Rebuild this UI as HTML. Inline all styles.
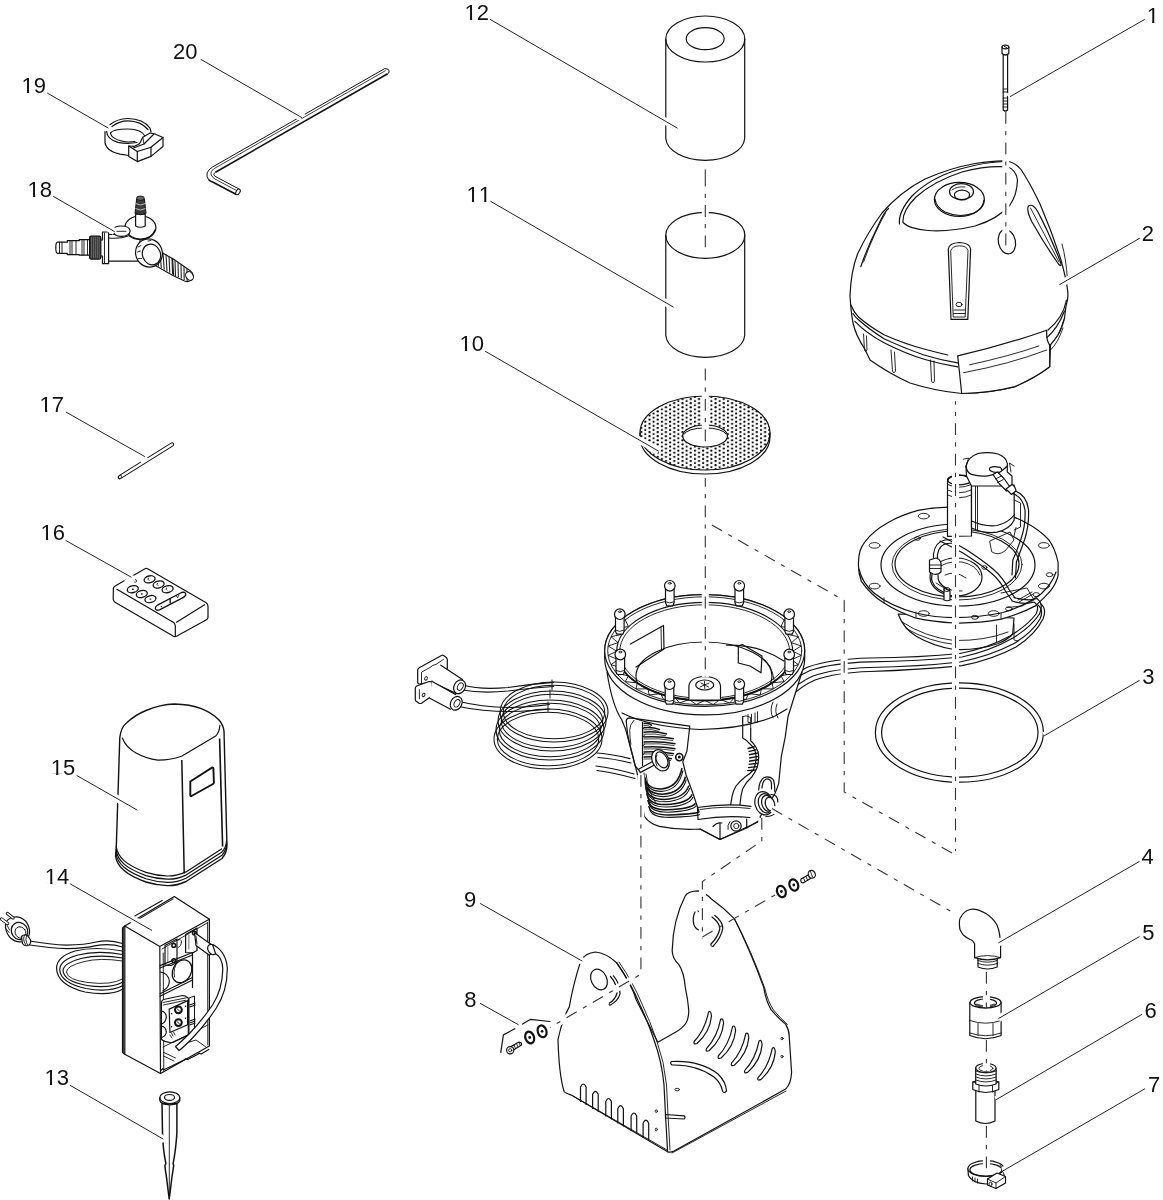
<!DOCTYPE html>
<html><head><meta charset="utf-8"><style>
html,body{margin:0;padding:0;background:#fff;width:1163px;height:1200px;overflow:hidden}
svg{display:block}
text{font-family:"Liberation Sans",sans-serif;font-size:22px;fill:#111;font-kerning:none;font-feature-settings:"kern" 0}
.l{fill:none;stroke:#222;stroke-width:1}
.s{fill:none;stroke:#111;stroke-width:1.2;stroke-linejoin:round;stroke-linecap:round}
.t{fill:none;stroke:#111;stroke-width:0.9;stroke-linejoin:round;stroke-linecap:round}
.k{fill:none;stroke:#111;stroke-width:1.6;stroke-linejoin:round;stroke-linecap:round}
.w{fill:#fff;stroke:#111;stroke-width:1.2;stroke-linejoin:round}
.dd{fill:none;stroke:#333;stroke-width:1.1;stroke-dasharray:11.8 7.2 4.2 7.2}
.da{fill:none;stroke:#333;stroke-width:1.1;stroke-dasharray:11.8 7.2 4.2 7.2}
</style></head><body>
<svg width="1163" height="1200" viewBox="0 0 1163 1200" style="filter:grayscale(1)">
<defs>
<pattern id="dots" x="656.24" y="410.38" width="8.26" height="4.13" patternUnits="userSpaceOnUse">
<circle cx="1.5" cy="1.0" r="1.1" fill="#000"/><circle cx="5.63" cy="3.065" r="1.1" fill="#000"/>
</pattern>
</defs>

<!-- LABELS -->
<g id="labels">
<text x="1146.7" y="23.0">1</text>
<text x="1141.8" y="241.0">2</text>
<text x="1142.3" y="683.8">3</text>
<text x="1141.6" y="863.8">4</text>
<text x="1142.3" y="939.8">5</text>
<text x="1144.5" y="1017.5">6</text>
<text x="1147.9" y="1091.5">7</text>
<text x="464.3" y="1006.7">8</text>
<text x="464.1" y="906.7">9</text>
<text x="459.5" y="351.0">10</text>
<text x="466.5" y="201.8">11</text>
<text x="464.5" y="19.8">12</text>
<text x="44.5" y="1084.8">13</text>
<text x="44.8" y="883.5">14</text>
<text x="50.7" y="775.2">15</text>
<text x="40.5" y="540.0">16</text>
<text x="39.6" y="411.8">17</text>
<text x="27.6" y="196.7">18</text>
<text x="21.5" y="92.9">19</text>
<text x="173.0" y="58.9">20</text>
<path fill="#fff" d="M1148.00,21.10 h4.15 v2.4 h-4.15 Z M1154.32,21.10 h4.0 v2.4 h-4.0 Z M460.80,349.10 h4.15 v2.4 h-4.15 Z M467.12,349.10 h4.0 v2.4 h-4.0 Z M467.80,199.90 h4.15 v2.4 h-4.15 Z M474.12,199.90 h4.0 v2.4 h-4.0 Z M480.04,199.90 h4.15 v2.4 h-4.15 Z M486.36,199.90 h4.0 v2.4 h-4.0 Z M465.80,17.90 h4.15 v2.4 h-4.15 Z M472.12,17.90 h4.0 v2.4 h-4.0 Z M45.80,1082.90 h4.15 v2.4 h-4.15 Z M52.12,1082.90 h4.0 v2.4 h-4.0 Z M46.10,881.60 h4.15 v2.4 h-4.15 Z M52.42,881.60 h4.0 v2.4 h-4.0 Z M52.00,773.30 h4.15 v2.4 h-4.15 Z M58.32,773.30 h4.0 v2.4 h-4.0 Z M41.80,538.10 h4.15 v2.4 h-4.15 Z M48.12,538.10 h4.0 v2.4 h-4.0 Z M40.90,409.90 h4.15 v2.4 h-4.15 Z M47.22,409.90 h4.0 v2.4 h-4.0 Z M28.90,194.80 h4.15 v2.4 h-4.15 Z M35.22,194.80 h4.0 v2.4 h-4.0 Z M22.80,91.00 h4.15 v2.4 h-4.15 Z M29.12,91.00 h4.0 v2.4 h-4.0 Z"/>
</g>


<!-- PART 12 -->
<g id="p12">
<path class="s" d="M665.8,39 L665.8,138.5 A39.5,23 0 0 0 744.7,138.5 L744.7,39"/>
<ellipse class="s" cx="705.3" cy="39" rx="39.5" ry="23"/>
<ellipse class="s" cx="705.2" cy="38.7" rx="19" ry="11"/>
</g>
<!-- PART 11 -->
<g id="p11">
<path class="s" d="M665.8,235.3 L665.8,335.5 A39.5,23 0 0 0 744.7,335.5 L744.7,235.3"/>
<ellipse class="s" cx="705.3" cy="235.3" rx="39.5" ry="23"/>
</g>
<!-- PART 10 -->
<g id="p10">
<path class="s" d="M640,433 L640,437 A65,37 0 0 0 770,437 L770,433"/>
<path d="M640,433 A65,37 0 1 1 770,433 A65,37 0 1 1 640,433 Z M682.7,436 A22.4,11 0 1 0 727.5,436 A22.4,11 0 1 0 682.7,436 Z" fill="url(#dots)" fill-rule="evenodd" stroke="#111" stroke-width="1.2"/>
<path d="M684,434.5 A21.2,7.3 0 0 1 726.2,434.5" fill="none" stroke="#111" stroke-width="1"/>
</g>


<!-- PART 3 O-ring -->
<g id="p3">
<ellipse class="s" cx="959.4" cy="732.5" rx="84" ry="49.7"/>
<ellipse class="s" cx="959.8" cy="732.6" rx="78.2" ry="44.5"/>
</g>

<!-- PART 20 hex key -->
<g id="p20" fill="none" stroke="#111">
<path d="M384.7,68.6 L212.5,167 Q203.8,172.5 208.5,179.5" stroke-width="1"/>
<path d="M208.5,179.5 Q210,181.2 213.1,182.2 L236.4,194.5" stroke-width="1.6"/>
<path d="M387.7,73.8 L215.5,172.2" stroke-width="1.6"/>
<path d="M215.5,172.2 Q212,174.8 215.9,176.8 L239.2,189.1" stroke-width="1"/>
<path d="M385.8,70.5 L213.6,168.9 Q207.5,174 214.9,179 L238,191.3" stroke-width="0.8"/>
<path d="M384.7,68.6 Q388.5,68.2 389.2,71 Q389,73.5 387.7,73.8" stroke-width="1"/>
<ellipse cx="238" cy="191.9" rx="1.9" ry="3.1" transform="rotate(30 238 191.9)" fill="#fff" stroke-width="1"/>
<path d="M296.5,118.4 L304.5,113.9" stroke="#fff" stroke-width="3.6"/>
</g>


<!-- PART 19 clamp -->
<g id="p19" class="s">
<path d="M109.5,125 Q118,118.3 128,118.5 Q143,118.8 150,128 L151,132"/>
<path d="M112,126.5 Q119,120.8 128,120.8 Q141,121 148,129.5"/>
<path d="M105,131.5 L105,142.5 Q106,151 120,154.2 L128.7,155.5"/>
<path d="M106.5,131 Q107,139.5 118,142.3 Q127,144.2 137,142.5"/>
<path d="M110.5,133 Q113,129 128,129 Q142,129.2 145,136.5"/>
<path d="M110.5,133 Q111.5,140 128,142 L135,141.5"/>
<path class="w" d="M128.7,146 L128.7,156.4 L137.3,161.6 L151,156.4 L163,146.5 L163,137.5 L155.5,134.2 L150,133 L142.8,137.2 L139.5,143.8 L134.6,146.3 Z"/>
<path d="M128.7,146 L137.3,151.5 L137.3,161.6"/>
<path d="M137.3,151.5 L151,147.2 L163,137.5"/>
<path d="M151,147.2 L151,156.4"/>
<path d="M133.5,148 L144,144 L153.5,134.5"/>
<path d="M142.8,137.2 L144,144" class="t"/>
</g>

<!-- PART 18 valve -->
<g id="p18">
<path class="s" d="M57.5,242.2 L67.3,242.2 L67.3,240.6 L79.3,240.6 L79.3,239.6 L89.6,239.6 L89.6,255.2 L79.3,255.2 L79.3,254.6 L67.3,254.6 L67.3,253.4 L57.5,253.4 Q55.8,253.4 55.8,247.8 Q55.8,242.2 57.5,242.2 Z"/>
<path class="t" d="M59.5,242.3 L59.5,253.3 M62,242.3 L62,253.3 M70,240.7 L70,254.5 M72,240.7 L72,254.5 M76,240.7 L76,254.5 M82,239.7 L82,255.1 M84,239.7 L84,255.1 M87.5,239.7 L87.5,255.1"/>
<rect x="89.6" y="236.2" width="11.2" height="22.9" rx="1.5" fill="#3a3a3a" stroke="#111" stroke-width="1.2"/>
<path d="M91.5,237 L91.5,258.3 M93.5,237 L93.5,258.3 M95.5,237 L95.5,258.3 M97.5,237 L97.5,258.3 M99.3,237 L99.3,258.3" stroke="#888" stroke-width="0.5"/>
<path class="w" d="M100.8,240 L102.5,240 L102.5,232 L108.6,232 L108.6,263.7 L102.5,263.7 L102.5,256 L100.8,256 Z"/>
<path class="t" d="M104.5,233 L104.5,262.8"/>
<path class="w" d="M108.6,234.5 L132,234.5 L140,238 L140,261.2 L108.6,261.2 Z"/>
<path class="s" d="M108.6,238 Q120,239 128,236"/>
<ellipse class="w" cx="140.4" cy="227.6" rx="15.5" ry="11.8"/>
<path class="s" d="M126,230 Q129,238.5 140.5,239.4 Q152,238.5 155,230"/>
<path class="w" d="M135.6,226 L135.6,214.5 Q140.5,212.5 145.2,214.5 L145.2,226 Q140.5,228.5 135.6,226 Z"/>
<path d="M135,213.5 L136.6,199 Q140.4,196 144.4,199 L146,213.5 Q140.5,216 135,213.5 Z" fill="#3a3a3a" stroke="#111" stroke-width="1"/>
<path d="M135.6,203.5 Q140.4,206.5 145.4,203.5 M135.4,208.5 Q140.5,211.5 145.6,208.5" stroke="#ccc" stroke-width="0.9" fill="none"/>
<ellipse cx="140.4" cy="198.2" rx="3.9" ry="2.2" fill="#666" stroke="#111" stroke-width="0.9"/>
<path class="w" d="M113,230.5 Q113.5,226 121.5,226 Q129.5,226 130.2,231 Q129.5,236.2 121.5,236.4 Q113.5,236.2 113,230.5 Z"/>
<path class="t" d="M117,231.3 L126,231.3"/>
<path d="M153,247.5 L174,259.5 L190,270.5 Q194.5,274 192.5,279 Q189.5,283 184.5,281 L172,275 L156,266 Z" fill="#fff" stroke="#111" stroke-width="1.1"/>
<path d="M157,249 L158.5,266.5 M160,251 L161.3,268 M163,252.5 L164.2,269.6 M166,254.3 L167,271.2 M169,256 L169.8,272.8 M172,257.8 L172.6,274.3 M175,260.5 L175.5,276 M178,262.6 L178.4,277.3 M181,264.6 L181.3,278.6 M184,266.6 L184.2,280 M187,268.6 L187.2,281" stroke="#222" stroke-width="1.1"/>
<path d="M172.5,258.5 L173.5,275" stroke="#111" stroke-width="1.2"/>
<ellipse cx="189.5" cy="276" rx="3.6" ry="4.6" transform="rotate(-30 189.5 276)" fill="#fff" stroke="#111" stroke-width="1.1"/>
<ellipse class="w" cx="149" cy="253" rx="13.3" ry="14.2" transform="rotate(-20 149 253)"/>
<ellipse class="s" cx="151.5" cy="254.5" rx="9" ry="10.5" transform="rotate(-20 151.5 254.5)"/>
<path class="t" d="M138,247 L141,245.5 M137.5,252 L140.5,251 M138.5,258.5 L141.5,258.5 M148,241 L151,240.5"/>
</g>


<!-- PART 16 remote -->
<g id="p16">
<path class="w" d="M113.4,588 Q114,586.5 116,585.5 L145,568.8 Q146.3,568 147.6,568.8 L205.8,602.4 Q207.8,603.7 208,606 L208,617.5 Q207.8,619 206,620 L176.5,636.3 Q175,637 173.5,636.2 L115,602.3 Q113.3,601 113.2,599 Z"/>
<path class="s" d="M116.9,589.2 L172.8,621.9 Q175,623 175.3,625.5 L175.3,636"/>
<path class="s" d="M176.5,622.2 L204.6,604.7"/>
<path d="M125,581.6 L134,576.2" stroke="#fff" stroke-width="3"/>
<ellipse cx="149.6" cy="579.3" rx="5.6" ry="3.4" transform="rotate(-14 149.6 579.3)" fill="none" stroke="#111" stroke-width="1.3"/>
<path d="M148.6,577.8 Q147.1,579.3 149.1,580.5" fill="none" stroke="#111" stroke-width="0.9"/>
<ellipse cx="158.6" cy="584.5" rx="5.6" ry="3.4" transform="rotate(-14 158.6 584.5)" fill="none" stroke="#111" stroke-width="1.3"/>
<path d="M157.6,583.0 Q156.1,584.5 158.1,585.7" fill="none" stroke="#111" stroke-width="0.9"/>
<ellipse cx="167.6" cy="589.2" rx="5.6" ry="3.4" transform="rotate(-14 167.6 589.2)" fill="none" stroke="#111" stroke-width="1.3"/>
<path d="M166.6,587.7 Q165.1,589.2 167.1,590.4000000000001" fill="none" stroke="#111" stroke-width="0.9"/>
<ellipse cx="132.8" cy="589.2" rx="5.6" ry="3.4" transform="rotate(-14 132.8 589.2)" fill="none" stroke="#111" stroke-width="1.3"/>
<ellipse cx="132.8" cy="589.2" rx="1.1" ry="0.7" fill="#111"/>
<ellipse cx="141.8" cy="594" rx="5.6" ry="3.4" transform="rotate(-14 141.8 594)" fill="none" stroke="#111" stroke-width="1.3"/>
<ellipse cx="141.8" cy="594" rx="1.1" ry="0.7" fill="#111"/>
<ellipse cx="150.4" cy="599.1" rx="5.6" ry="3.4" transform="rotate(-14 150.4 599.1)" fill="none" stroke="#111" stroke-width="1.3"/>
<ellipse cx="150.4" cy="599.1" rx="1.1" ry="0.7" fill="#111"/>
<path d="M158,604.8 L181.5,592.5 Q185.5,591.5 185.8,594.3 Q185.5,596.5 182,598.2 L159.5,609.8 Q156,611 155.3,608.4 Q155.3,606.3 158,604.8 Z" fill="none" stroke="#111" stroke-width="1.3"/>
<path d="M170.2,598.6 L170.2,603.8" stroke="#111" stroke-width="1.3"/>
<circle cx="161.3" cy="606.6" r="0.7" fill="#111"/>
<path d="M176,595.2 L177.5,597.8 L179,594.8" fill="none" stroke="#111" stroke-width="0.8"/>
<path d="M135,579.5 Q137.2,580 136.6,581.6 Q135.6,582.6 134.3,582" fill="none" stroke="#111" stroke-width="0.9"/>
</g>

<!-- PART 15 cover -->
<g id="p15">
<path style="stroke-width:1.4" class="w" d="M119.8,737.5 Q121,727 127,722.5 Q135,715 146,710.5 Q160,704.5 174.4,704 Q190,704.3 201.3,708.6 Q213,713.5 219,720 Q223.6,725.5 224,731.3 L226.9,844 Q227.5,852 222,858.5 L186,881.5 Q177,885.8 167.4,885.6 Q156,885.2 146,882 Q131,876.5 124.1,870.5 Q116.5,864 115.6,856 L116.3,846.8 Z"/>
<path class="s" d="M122.3,738 Q126,747.5 136,753 Q146,758.5 157.8,760.2 Q172,760 182,756 L215.7,736.1 Q219.5,732 219.9,725.3"/>
<path d="M181.8,760 L184.2,873.5" fill="none" stroke="#111" stroke-width="1.5"/>
<path d="M219.6,738.5 L222.6,846.5" fill="none" stroke="#111" stroke-width="1.6"/>
<path d="M190.3,781.5 L212.3,767.5 Q213.3,767.3 213.4,768.5 L213.9,782.5 Q213.9,783.5 213,784 L191.5,796 Q190.3,796.5 190.3,795.3 Z" fill="none" stroke="#111" stroke-width="1.9"/>
<path class="s" d="M115.8,852.8 Q116.8,861 124.1,867.3 Q131,873.3 146,878.8 Q156,882 167.4,882.4 Q177,882.6 186,878.3 L222,855.3 Q226.5,850 226.7,843"/>
<path class="s" d="M116,849.6 Q117,857.8 124.1,864.1 Q131,870.1 146,875.6 Q156,878.8 167.4,879.2 Q177,879.4 186,875.1 L222,852.1 Q226.3,847 226.5,841"/>
<path class="s" d="M116.2,846.4 Q117.2,854.6 124.3,860.9 Q131,866.9 146,872.4 Q156,875.6 167.4,876 Q177,876.2 186,871.9 L221.5,849"/>
</g>

<!-- PART 14 box -->
<g id="p14">
<path class="s" d="M29.5,941 Q50,944.5 67,945.2 Q85,944.8 96,942 Q110,939.3 122.5,943.5"/>
<path class="s" d="M29.5,945 Q50,948 67,948.6 Q85,948.2 96,945.6 Q110,943 122.5,947"/>
<path class="s" d="M122.5,951 Q95,946 75,951 Q57,956.5 56.5,968 Q57,985 85,992 Q110,996.5 123,989"/>
<path class="s" d="M122.5,954.5 Q97,950 78,955 Q60,960 59.7,969.5 Q60.5,983 86,988.5 Q110,992.7 123,985.5"/>
<path class="s" d="M122.5,958 Q99,954 81,958.5 Q63,963.5 63,970.8 Q64,981.5 87,985.5 Q110,989 123,982"/>
<path class="t" d="M122.5,961 Q100,957.5 84,961.6 Q66.5,966 66.5,972 Q67.5,980 88,982.5 Q111,985.5 123,978.8"/>
<path class="w" d="M5.5,927 Q5,920 11,918 L14.5,917 Q20,916 25.5,921 Q30,926.5 29.5,933 Q29,939.5 23,941.5 Q16,943 10.5,938 Q6,933 5.5,927 Z"/>
<ellipse class="s" cx="19.5" cy="931" rx="8" ry="8.8" transform="rotate(-35 19.5 931)"/>
<ellipse class="t" cx="20.5" cy="932.5" rx="5.2" ry="6" transform="rotate(-35 20.5 932.5)"/>
<path class="t" d="M7,925 L9.5,930 M5.8,928.5 L9,932.5"/>
<path d="M1.5,919 L7.5,923.5 M7.5,913.5 L13,918" fill="none" stroke="#111" stroke-width="3.4" stroke-linecap="round"/>
<path d="M1.5,919 L7.5,923.5 M7.5,913.5 L13,918" fill="none" stroke="#fff" stroke-width="1.6" stroke-linecap="round"/>

<path class="w" d="M21.5,936.5 Q25,933.5 28,936 L30.5,940 Q31.5,944 28,945.5 Q24.5,946.5 22.5,943.5 Z"/>
<path class="t" d="M24.8,935 Q22,938.5 25.5,944.5 M27,935.5 Q24.5,939 27.5,945"/>
<path class="w" d="M124.8,926 L174.3,896.5 L209.4,919.2 L209.4,1046 L160.5,1073.5 L124.8,1054.2 Z"/>
<path class="s" d="M124.8,926 L159.8,946.5 L209.4,919.2 M159.8,946.5 L160.5,1073.5"/>
<path d="M134.4,916.2 L162.6,900.3 M139.5,918.6 L173.5,898.6" fill="none" stroke="#111" stroke-width="1.1"/>
<path class="s" d="M122.5,928 L124.8,926 M122.5,928 L122.5,1052.5 L124.8,1054.2"/>
<path class="t" d="M123.6,927.5 L123.6,1053"/>
<path class="t" d="M162,949 L207.8,922.6 M163.2,953 L163.8,1071.3 M207.6,922.5 L207.8,1045"/>
<path class="s" d="M165,945.5 L177,939 L177,962.5 L171,965.5 L165,965 Z"/>
<path d="M167.8,946.5 L167.8,962.5 M188.8,934.5 L188.8,949.5" stroke="#888" stroke-width="1.2"/>
<circle cx="173.8" cy="945.4" r="1.9" fill="#fff" stroke="#111" stroke-width="1.5"/>
<circle cx="173.8" cy="960.6" r="1.9" fill="#fff" stroke="#111" stroke-width="1.5"/>
<path class="t" d="M178,940 Q181,938.5 181.5,942 Q181.3,946 178.5,947.5"/>
<path class="s" d="M185.6,934.5 L197,928 L197,950.5 L192.5,953 L185.6,952.5 Z"/>
<circle cx="194.4" cy="933.1" r="1.9" fill="#fff" stroke="#111" stroke-width="1.5"/>
<path class="s" d="M160,965.6 L192.5,952.5 M160,968 L192.5,955"/>
<ellipse cx="182" cy="971.3" rx="9.2" ry="12" transform="rotate(28 182 971.3)" fill="#fff" stroke="#111" stroke-width="1.3"/>
<path class="t" d="M174.5,977 Q172.5,968 178,961.5"/>
<path class="s" d="M160.5,972 Q168,973 169.4,981 Q169,988 163,990.6"/>
<path class="s" d="M160,993.7 L192.5,977.5 M160,996.2 L192.5,980"/>
<path class="s" d="M192.5,952.5 L192.5,987.5"/>
<path class="w" d="M161.4,1002.7 Q161.5,1000.5 163.5,999.5 L182.5,995.5 Q184.7,995.5 186,996.5 L188.3,998 L188.3,1035.3 L172.7,1042.4 Q166,1043 161.4,1039.6 Z"/>
<path class="t" d="M163,1002.5 L186.5,997.8 M163.5,1005 L185.5,1000.3"/>
<path class="s" d="M169.2,1009.1 L187.6,1000.6 L187.6,1024.7 L169.9,1032.5 Z"/>
<circle cx="178.4" cy="1009.8" r="3.4" fill="#fff" stroke="#111" stroke-width="2"/>
<circle cx="178.4" cy="1022.6" r="3.4" fill="#fff" stroke="#111" stroke-width="2"/>
<path class="t" d="M177,1008.8 L179.5,1011 M177,1021.6 L179.5,1023.8"/>
<g fill="#111"><circle cx="171.6" cy="1013.7" r="0.8"/><circle cx="171.6" cy="1026.8" r="0.8"/><circle cx="185.5" cy="1006.3" r="0.8"/><circle cx="185.5" cy="1018.3" r="0.8"/></g>
<path class="t" d="M171.5,1033 L173,1036 M173.5,1032 L175,1035 M170,1035 L172,1038"/>
<path d="M189,998 L194.5,996 L194.5,1031 L189,1034 Z" fill="#fff" stroke="#111" stroke-width="1"/>
<path d="M189.5,1005 L195.5,1003 M189.5,1007 L195.5,1005 M189.5,1021 L195.5,1019 M189.5,1023 L195.5,1021 M189.5,1025 L195.5,1023" stroke="#111" stroke-width="1.1"/>
<path class="s" d="M161.6,1011 Q166,1012 166.3,1017 Q166,1022 161.6,1024 M161.6,1026 Q166,1027 166.3,1032 Q166,1036 161.6,1037.5"/>
<path class="s" d="M161.4,1070 L163,1068.5 Q164,1070 165.5,1069 L184,1060 L186,1058.5 Q187,1060 188.5,1059 L197.5,1054.5 L199.5,1053 Q200.5,1054.5 202,1053.5 L208.8,1049.5"/>
<path class="t" d="M163.5,1052.3 L175.5,1058 M163.5,1056 L174,1061 M163,1047 L208,1025 M186,1043 L196,1040 L206,1047"/>
<path class="w" d="M194.5,932.5 L210.5,944 Q214.5,948 212.5,953.5 L209,955 L196,945.5 Z"/>
<path class="t" d="M196,936 L197,944"/>
<ellipse class="w" cx="212.3" cy="949.5" rx="4.2" ry="5.6" transform="rotate(-35 212.3 949.5)"/>
<path class="w" d="M212.5,944.5 Q226,951 227.3,968 Q227.5,991 216,1008.5 Q205,1025 193,1037.5 Q184,1047 179,1050.5 L175.5,1046.5 Q181,1042 189.5,1033.5 Q201.5,1021 212.5,1005 Q222.3,990 222.8,969 Q222.5,958 215.5,953.5 Z"/>
</g>

<!-- PART 13 stake -->
<g id="p13">
<path style="stroke-width:1.5" class="w" d="M162,1103.5 L162.5,1133 Q163,1150 165.9,1163.6 L164.9,1165.5 Q165.5,1172 166.6,1178 Q168,1190 169.2,1199 Q170.5,1190 171.8,1178 Q172.8,1172 173.7,1165.5 L173.1,1163.6 Q175.8,1150 176.9,1133 L176.9,1103.5 Z"/>
<path class="t" d="M169.3,1105 L169.3,1196"/>
<ellipse class="w" cx="169.8" cy="1097.7" rx="10" ry="5.8"/>
<path class="s" d="M159.8,1097.7 L159.8,1100.5 Q161,1104.5 169.8,1104.8 Q178.6,1104.5 179.8,1100.5 L179.8,1097.7"/>
<ellipse class="s" cx="169.5" cy="1097.4" rx="5" ry="2.9"/>
<path d="M161.5,1135 L163.5,1142.5" stroke="#fff" stroke-width="2.6"/>
</g>


<!-- PART 1 screw -->
<g id="p1">
<path class="w" d="M1003.2,54 L1003.2,110 Q1005.3,112 1007.6,110 L1007.6,54 Z"/>
<path class="t" d="M1003.2,89 L1007.6,89 M1003.2,92 L1007.6,92 M1003.2,98 L1007.6,98 M1003.2,101 L1007.6,101 M1003.2,104 L1007.6,104 M1003.2,107 L1007.6,107"/>
<path class="w" d="M1002,47 L1002,53.5 Q1005.4,56.5 1008.8,53.5 L1008.8,47 Z"/>
<ellipse class="w" cx="1005.4" cy="47" rx="3.4" ry="1.9"/>
<path class="t" d="M1004.2,46.4 L1006.6,47.6"/>
<path d="M1006.5,93.5 L1009.5,96.5" stroke="#fff" stroke-width="2"/>
</g>

<!-- PART 2 cover -->
<g id="p2">
<path class="w" d="M850,296 Q851,270 858,253 Q868,232 882,213 Q900,192 925,179 Q950,168 975,163.5 Q995,160.5 1006,161 Q1015,162 1021,169.5 Q1030,183 1040,204 Q1052,232 1061,260 Q1066,278 1067.6,290 Q1068.8,298 1066,306 L1064.5,318 Q1062,328 1058,335 L1050.5,345 L1049.7,366.8 Q1035,378 1015,386.6 Q990,393 961.7,393.5 Q935,391 910,383 Q890,374 870,360 L864.8,349 Q856,336 853,323 Q851,312 850,296 Z"/>
<path class="s" d="M851,305 Q853.5,312 858.8,317.3 Q870,327 884.5,335 Q905,344 924,349 Q937,352.5 947.8,355"/>
<path class="s" d="M853,313.5 Q855,317 858.8,320 Q870,330 884.5,339 Q905,348.5 924,355 Q940,360 957.7,362.8"/>
<path class="s" d="M854.9,321.3 Q866,333 884.5,343 Q905,353.5 925,359.5 Q942,364.5 957.7,366.8"/>
<path class="s" d="M1066.5,300 Q1063,318 1048,330"/>
<path class="s" d="M1064.5,311 Q1058,328 1046.5,338"/>
<path class="t" d="M1064,320 Q1059,337 1050,345 M1063,328 Q1058,343 1050.5,350"/>
<path class="t" d="M863.5,334 L864.5,350 Q865.5,353 867,350 L866.5,336 M891,350 L892.5,371 Q894,374.5 895.5,371 L894.5,352 M930.5,360 L931.5,381 Q933,384.5 934.5,381 L934,361"/>
<path class="w" d="M957.7,355.9 Q1005,345 1046.7,330.2 L1046.7,337.1 Q1048,343 1049.7,345 L1049.7,366.8 Q1035,378 1015,386.6 Q990,393 961.7,393.5 Z"/>
<path class="t" d="M969.6,364.8 Q1010,356 1038.8,346 M963.6,372.7 Q1010,364 1046.7,350"/>
<path class="s" d="M899.5,224 Q898,212 912,196 Q930,178 960,169 Q985,162 1004,161.5"/>
<path class="s" d="M903,222.5 Q902,211 916,197 Q934,181 962,172 Q988,165 1008,167 Q1016,170 1017.5,180 Q1017,195 1010,205 Q998,219 975,226 Q950,232 928,230.5 Q909,229 903,222.5 Z"/>
<ellipse class="w" cx="959.4" cy="199.4" rx="25" ry="17"/>
<path class="s" d="M935,199 Q936,207 945,212 Q959,218.5 974,213 Q983,208.5 984,200"/>
<ellipse class="s" cx="961.5" cy="191.7" rx="12" ry="8"/>
<ellipse class="s" cx="962" cy="195" rx="7.6" ry="4.8"/>
<path class="t" d="M952,190 Q957,186 965,187"/>
<path class="w" d="M948.3,249 Q949,243 959.5,242.5 Q970,243 970.6,249 L967.8,319.4 L951,319.4 Z"/>
<path class="t" d="M950.8,250.5 Q952,246 959.5,245.8 Q967,246 968,250.5 L965.2,317 L953.6,317 Z"/>
<path class="t" d="M954,310 L965,310 M953.5,313.5 L965.5,313.5"/>
<ellipse class="t" cx="959" cy="304.5" rx="3" ry="2.2"/>
<path class="s" d="M1028.5,206 Q1033,203 1038,212 Q1050,235 1060.5,262 Q1062,268 1058.5,264 Q1045,245 1032,222 Q1026,210 1028.5,206 Z"/>
<path class="t" d="M1030.5,208 Q1043,232 1059,262"/>
<path class="s" d="M888.5,208.5 Q884,212 878,226 Q867,248 860.8,266.7"/>
<path class="t" d="M885.5,213 Q874,233 863.5,262"/>
<ellipse class="s" cx="1006.9" cy="241.7" rx="8.5" ry="12.3" transform="rotate(-12 1006.9 241.7)"/>
<path class="t" d="M1062,244 Q1066,258 1067.5,280"/>
</g>


<!-- MOTOR ASSEMBLY -->
<g id="motor">
<path class="w" d="M898.2,614 Q903,628 916.2,636.2 Q933,646 954,649.5 Q978,650.5 997.6,643.8 Q1008,639.5 1012.7,634 L1014,618 Z"/>
<path class="t" d="M902,622 Q925,637 954,640.5 Q985,641 1008,632 M906,628.5 Q930,642 955,644.5"/>
<path class="t" d="M996.5,625 L996.5,641.5 M1014,624 L1014,640 L1018,641"/>
<path class="w" d="M858.5,564.3 Q858,550 865.1,541.6 Q873,531 887.8,522.7 Q901,515 918.1,510.4 Q932,507.6 948.4,507.2 Q972,506.5 990,509.5 Q1010,514 1026,522.7 Q1040,530 1048.6,539.7 Q1055,548 1058.1,562.4 L1058.1,575.7 Q1056,584 1050.5,590.8 Q1044,598 1035.4,605.9 Q1020,614 1001.3,619.2 Q978,623.5 954,623 Q933,622 916.2,618.2 Q898,612 884,603.1 Q870,594 861.4,581.3 Q858.2,573 858.5,564.3 Z"/>
<path class="s" d="M859,569 Q862,583 874,593 Q890,606 916,613 Q935,617.5 954,617.6 Q980,617.5 1003,612.5 Q1025,606 1041,594 Q1052,584 1056,572"/>
<path class="t" d="M884,603 L884,597.8 M916,617.5 L916,612 M1001,618.7 L1001,613.5"/>
<ellipse class="s" cx="958" cy="565" rx="77" ry="41"/>
<ellipse class="s" cx="957" cy="564" rx="62" ry="33"/>
<ellipse class="t" cx="957" cy="564.5" rx="65" ry="35.5"/>
<g class="t">
<ellipse cx="923.8" cy="516.1" rx="5.5" ry="2.8"/><ellipse cx="874.6" cy="545.4" rx="5.5" ry="2.8"/>
<ellipse cx="874.6" cy="586.1" rx="5.5" ry="2.8"/><ellipse cx="923.8" cy="613.5" rx="5.5" ry="2.8"/>
<ellipse cx="993.8" cy="613.5" rx="5.5" ry="2.8"/><ellipse cx="1043.9" cy="545.4" rx="5.5" ry="2.8"/>
<ellipse cx="1043.9" cy="586.1" rx="5.5" ry="2.8"/>
<ellipse cx="974.9" cy="617.3" rx="3.3" ry="2"/><ellipse cx="1008.9" cy="608.8" rx="3.3" ry="2"/>
<ellipse cx="1036.3" cy="594.6" rx="3.3" ry="2"/><ellipse cx="1049.6" cy="574.7" rx="3.3" ry="2"/>
<ellipse cx="917.5" cy="538.5" rx="2.8" ry="1.8"/>
</g>
<ellipse class="s" cx="956" cy="577" rx="26" ry="19"/>
<path class="t" d="M934,571 Q945,560 962,562 Q976,565 980,575 M936,583 Q948,592 962,591 M945,575 Q955,570 966,578"/>
<path class="w" d="M929.5,560 L936,558 Q940,559 941,563 L941,572 Q937.5,575.5 933,574 L929.5,572 Z"/>
<path class="t" d="M929.5,565 L941,565 M929.5,568.5 L941,568.5"/>
<path class="s" d="M933.5,558 L933.5,554 Q935,542 945,540 L956,539.5 M937.5,558 L937.5,554.5 Q939,545 947,543.5 L956,543"/>
<path class="s" d="M932,574.5 Q930,583 938,589 L944,592.5 M938,575 Q937,583 946,588"/>
<path class="w" d="M944,588 L950,591 L950,600 Q947,601.5 944,600 Z"/>
<ellipse class="t" cx="947" cy="589.5" rx="3" ry="2"/>
<ellipse class="t" cx="984.4" cy="567.5" rx="2.5" ry="1.8"/>
<path class="w" d="M947.5,536.3 L947.5,481 Q949,476 959.1,475 Q969.5,476 971.5,481 L971.5,536 Z"/>
<ellipse class="s" cx="959.5" cy="480" rx="12" ry="4.8"/>
<path class="t" d="M947.7,484.5 Q959,490 971.3,484.5 M947.7,490 Q959,495.5 971.3,490 M947.7,495 Q959,500.5 971.3,495"/>
<path class="w" d="M971.5,485 L971.5,528 Q985,534 997,532.2 Q1010,529 1014.2,520 L1014.2,485 Z"/>
<path class="t" d="M975.5,486 L975.5,530 M977.5,486 L977.5,531"/>
<path class="s" d="M971.5,521 Q985,527 997,525.5 Q1008,523 1014.2,515"/>
<path class="t" d="M1014.2,500 L1020.5,503 L1020.5,527 L1014.2,530 M1016,527.5 L1014,536"/>
<path class="w" d="M966,466.1 Q968,457 978,453.5 Q988,451.5 998,454 Q1006,457 1007.3,463.4 L1007.3,472 L1012,476 L1012,486 L971.5,486 L966.5,476 Z"/>
<path class="s" d="M966,466.1 Q967,473 971.5,474.4 Q980,477 988,475.8 Q1000,474 1007.3,466"/>
<path class="t" d="M963.3,459.3 L968.5,458 L966,467 M1014.2,466.1 L1009.5,463 L1011,472"/>
<path class="w" d="M989.4,468.9 Q990,466.5 995,466.6 L1000.2,467.3 Q1002,468.3 1001.5,471 Q1000.5,472.5 995,472.3 Q989.7,471.5 989.4,468.9 Z"/>
<path class="w" d="M993,474.5 L997.5,472 L1004,478.5 L1010,487 L1006.5,491 L999.5,484 Z"/>
<path class="t" d="M995.5,479 L1001,476.2 M997.5,482.5 L1003.2,479.6"/>
<path class="w" d="M1006,489 L1012,484.5 Q1015.5,486.5 1016,491 L1011.5,494.5 Z"/>
<path class="s" d="M1013,493.8 Q1023,497 1025,510 Q1025.8,525 1021,539 Q1016,553 1012.8,560 L1012,575"/>
<path class="s" d="M1016,491.3 Q1026.5,495 1028.5,509.5 Q1029.3,525 1024.5,540 Q1019,555 1016.4,562 L1015.5,578"/>
<path class="s" d="M940,541 Q952,547 963,553 Q980,564 990,572 Q1000,580 1006,592 L1012,600.5"/>
<path class="s" d="M943,537 Q955,543 966,549.5 Q983,560.5 993,569 Q1003,577.5 1009,589.5 L1015,598"/>
<path class="t" d="M990,541 L1010,532 L1014,540 L1005,551 Q998,556 992,552 Z"/>
<path class="t" d="M1001,593 L1027,588 L1034,600 L1022,606 L1007,607.5"/>
<path class="t" d="M1018,600 L1032,592 M1019,602 L1033,594"/>
<path class="s" d="M1012,601 Q1025,605 1034,602 Q1040,606 1036,614 Q1028,625 1010,636 Q988,648 960,653.5 Q920,657.5 870,658 Q830,659 808,667 Q792,674 779,688"/>
<path class="s" d="M1014,597.5 Q1028,601.5 1037,598.5 Q1044,604 1039.5,614 Q1031,627 1013,638 Q990,651 962,657 Q920,661 870,661.8 Q832,662.8 810,670.5 Q795,677 782,691"/>
<path class="s" d="M1038,605 Q1044,610 1040,619 Q1032,633 1013,644 Q990,656 960,662 Q920,666.5 870,667.5 Q834,668.5 813,676 Q798,682.5 785,696"/>
<path class="s" d="M1041,604 Q1047,609 1043,619 Q1035,635 1016,647 Q993,659.5 962,665.7 Q920,670 870,671.5 Q836,672.5 815,680 Q801,686 788,699"/>
</g>

<!-- HOUSING -->
<g id="housing">
<defs><clipPath id="inner"><ellipse cx="704.7" cy="651.4" rx="88" ry="49.1"/></clipPath></defs>
<path class="w" d="M607,672 Q612,705 621.8,720 L625.7,729.5 Q629,742 632.6,755.3 L637.6,775 Q640,790 641.5,800.7 L644.5,816.6 Q650,824 659.3,826.4 Q680,830.5 700,829 L720,839.5 L760.2,821 L760.2,816.6 L774.7,794 Q777,789 778.7,783.3 L780,770 L781.3,756.7 L785.3,736.7 L788,716.7 L802,672 Z"/>
<path class="s" d="M622,713 Q650,727 700,729.5 Q745,729 775,716 L787,709"/>
<path class="s" d="M626.2,721 Q626.5,717.8 630,717.8 L689.8,726.2 L686.9,751.3 L682.8,761.8 L686.3,775.8 L692.1,791 L696.8,805 L699.1,812"/>
<path class="s" d="M626.2,721 Q627,735 630.3,746.6 L635,765.3 L638.5,770"/>
<path class="t" d="M633.8,720.4 Q629.5,725 629.7,730.3 Q629.8,738 630.9,744.3"/>
<path d="M643.5,723.5 Q647.8,722.3 652,725.3 M643.5,727.8 Q651.8,726.5999999999999 660,729.5999999999999 M643.5,732.2 Q655.2,731.0 667,734.0 M643.5,737 Q658.8,735.8 674,738.8 M643.5,742 Q659.5,740.8 675.5,743.8 M643.5,747 Q659.5,745.8 675.5,748.8 M643.5,752 Q658.8,750.8 674,753.8 M643.5,757 Q657.8,755.8 672,758.8 " fill="none" stroke="#111" stroke-width="1.5"/>
<path d="M643.5,725.5 Q647.8,724.4 651,727.1 M643.5,729.8 Q651.8,728.6999999999999 659,731.4 M643.5,734.2 Q655.2,733.1 666,735.8000000000001 M643.5,739 Q658.8,737.9 673,740.6 M643.5,744 Q659.5,742.9 674.5,745.6 M643.5,749 Q659.5,747.9 674.5,750.6 M643.5,754 Q658.8,752.9 673,755.6 M643.5,759 Q657.8,757.9 671,760.6 " fill="none" stroke="#111" stroke-width="0.8"/>
<path d="M642.5,722 L642.5,766" fill="none" stroke="#111" stroke-width="1.2"/>
<path class="t" d="M644.5,727 L643,729 M644.5,735 L643,737 M644.5,744 L643,746 M644.5,753 L643,755"/>
<path d="M644.2,775.0 Q645.7,789.0 661.0,789.0 Q678.0,788.0 682.0,768.0 M645.1,781.2 Q646.6,794.2 662.6,794.2 Q681.4,793.2 685.4,776.8 M646.0,787.4 Q647.5,799.4 664.2,799.4 Q684.8,798.4 688.8,785.6 M646.9,793.6 Q648.4,804.6 665.8,804.6 Q688.2,803.6 692.2,794.4 M647.8,799.8 Q649.3,809.8 667.4,809.8 Q691.6,808.8 695.6,803.2 M648.7,806.0 Q650.2,815.0 669.0,815.0 Q695.0,814.0 699.0,812.0 " fill="none" stroke="#111" stroke-width="1.5"/>
<path d="M645.1,777.6 Q646.5,791.4 661.5,791.4 Q678.8,790.4 682.9,770.5 M646.0,783.8 Q647.4,796.6 663.1,796.6 Q682.2,795.6 686.3,779.3 M646.9,790.0 Q648.3,801.8 664.7,801.8 Q685.6,800.8 689.7,788.1 M647.8,796.2 Q649.2,807.0 666.3,807.0 Q689.0,806.0 693.1,796.9 M648.7,802.4 Q650.1,812.2 667.9,812.2 Q692.4,811.2 696.5,805.7 M649.6,808.6 Q651.0,817.4 669.5,817.4 Q695.8,816.4 699.9,814.5 " fill="none" stroke="#111" stroke-width="1.1"/>
<path class="t" d="M644,773 Q645,795 652,808 M646,774 Q648,792 656,803"/>
<path class="w" d="M638.5,769.3 L657.5,758.8 L659.5,762.3 L640.2,772.6 Z"/>
<ellipse class="w" cx="660.5" cy="760.3" rx="8" ry="11.2" transform="rotate(-28 660.5 760.3)"/>
<ellipse class="s" cx="661.8" cy="759.8" rx="5.3" ry="8.6" transform="rotate(-28 661.8 759.8)"/>
<path class="t" d="M657,755 Q654,760 657,766"/>
<circle cx="679.3" cy="757.1" r="3.6" fill="#fff" stroke="#111" stroke-width="1.6"/><circle cx="679.3" cy="757.1" r="1.5" fill="#111"/>
<path class="s" d="M742.7,716.7 L742.7,738 Q746.5,740 749.3,743.3 Q753,746.5 754.7,750 Q756.5,754.5 756,759.3 Q755.5,765 753.3,770 Q750,774 745.3,776.7 Q740,781 736,786 Q733,791 732,796.7 L730.7,804.7"/>
<path class="s" d="M750.7,728.7 L750.7,740.7 Q754,743.5 756,747.3 Q758.7,751.5 758.7,756.7 Q758.5,762.5 757.3,767.3 Q755,772.5 752,776.7 Q746,782 742.7,788.7 Q740.5,796 740,804.7"/>
<path d="M747.5,748.5 L754.8,746.8 M748.5,751.6 L756.8,749.6 M749,754.8 L757.8,753 M749.2,758 L758.3,756.4 M749,761.2 L758.2,759.8 M748.6,764.4 L757.8,763.2 M748,767.6 L757.2,766.6 M747.2,770.6 L756,770" stroke="#111" stroke-width="1.4"/>
<path class="t" d="M742.7,716.7 L746,715.8 L750.7,717.5 L750.7,728.7 M748,714.5 L748,722.5 L751.5,722.5 L751.5,714.2 M755,713 L755,722.5 L757.5,722.5 L757.5,711.8"/>
<path class="s" d="M697.5,807.5 Q725,803 751,806.3 M698,819.5 Q725,815 750,817.5 M697.5,807.5 L698,819.5"/>
<path class="t" d="M700,809.5 Q725,805.5 750,808.5"/>
<path class="s" d="M700,829 L720,839.5 L746.7,828 L760,820 M720,823.5 L720,839.5 M746.7,819 L746.7,828"/>
<path class="s" d="M713,826.5 Q717,822 722,823"/>
<circle class="w" cx="736" cy="826" r="5.2"/><circle class="t" cx="736.3" cy="826" r="2.6"/>
<path class="t" d="M728,829.5 Q727,825 730,821.5"/>
<path class="s" d="M758.7,790 Q759,781 764,777.5 Q770,775.5 773.5,780 Q775,785 774.7,791.3 M762,788 Q762.5,781 766,779 Q770.5,778.5 771.5,783 L771.5,789"/>
<ellipse class="w" cx="764" cy="803.3" rx="9" ry="11.8" transform="rotate(-15 764 803.3)"/>
<ellipse class="s" cx="765.5" cy="803.3" rx="7" ry="9.8" transform="rotate(-15 765.5 803.3)"/>
<ellipse class="s" cx="767.2" cy="803.3" rx="5.4" ry="8" transform="rotate(-15 767.2 803.3)"/>
<ellipse class="w" cx="770" cy="804" rx="4.6" ry="6.9" transform="rotate(-15 770 804)"/>
<path class="s" d="M771,794.5 Q778,794.5 777.8,802 M776.5,812 Q773,816.5 766,816.5"/>
<path class="w" d="M604.7,650.5 L604.7,659 A100,55.9 0 0 0 804.7,659 L804.7,650.5 A100,55.9 0 0 0 604.7,650.5 Z"/>
<ellipse class="w" cx="704.7" cy="650.5" rx="100" ry="55.9"/>
<ellipse class="t" cx="704.7" cy="650.8" rx="97" ry="54"/>
<path class="t" d="M792.7,651.2 L801.3,655.4 L791.4,659.7 L798.4,664.7 L787.4,668.0 L792.6,673.5 L780.9,675.8 L784.2,681.7 L772.1,682.8 L773.3,688.9 L761.3,688.8 L760.3,694.9 L748.7,693.7 L745.7,699.6 L734.8,697.3 L729.8,702.9 L720.0,699.6 L713.2,704.5 L704.7,700.3 L696.2,704.5 L689.4,699.6 L679.6,702.9 L674.6,697.3 L663.7,699.6 L660.7,693.7 L649.1,694.9 L648.1,688.8 L636.1,688.9 L637.3,682.8 L625.2,681.7 L628.5,675.8 L616.8,673.5 L622.0,668.0 L611.0,664.7 L618.0,659.7 L608.1,655.4 L616.7,651.2 L608.1,646.0 L618.0,642.7 L611.0,636.7 L622.0,634.4 L616.8,627.9 L628.5,626.7 L625.2,619.7 M784.2,619.7 L780.9,626.7 L792.6,627.9 L787.4,634.4 L798.4,636.7 L791.4,642.7 L801.3,646.0 L792.7,651.2"/>
<ellipse class="s" cx="704.7" cy="651.4" rx="88" ry="49.1"/>
<path d="M616.7,651.4 A88,49.1 0 0 0 792.7,651.4" fill="none" stroke="#111" stroke-width="2"/>
<ellipse class="t" cx="704.7" cy="651.6" rx="85" ry="46.8"/>
<g clip-path="url(#inner)">
<ellipse class="s" cx="704" cy="676" rx="68" ry="34"/>
<path class="s" d="M630.5,644 L663.5,625.5 L664,649 L636,667"/>
<path class="t" d="M661,627 L661.5,650"/>
<path class="s" d="M738.3,646.1 L742.3,644.5 L762,656 L761,672.8 L750,666 L738.3,663 Z"/>
<path class="s" d="M726.4,645.1 Q750,645 764,651 Q775,655 783.8,661"/>
<path class="t" d="M762,658 Q772,664 774,680"/>
<path class="w" d="M688.9,700 L688.9,686 Q690,677 704.7,676.5 Q719.5,677 720.5,686 L720.5,700 Z"/>
<ellipse class="s" cx="704.7" cy="685" rx="9" ry="5"/>
<path class="t" d="M700,687 L709,683 M704.5,681.5 L704.7,688.5 M701,683 L708.5,687"/>
</g>
<path class="w" d="M665.5,588.8 L665.5,602.8 L666.8,605.8 L672.8,605.8 L674.0999999999999,602.8 L674.0999999999999,588.8 Z"/>
<path class="t" d="M665.5,601.8 Q669.8,604.3 674.0999999999999,601.8"/>
<circle class="w" cx="669.8" cy="585.8" r="5.3"/>
<ellipse class="t" cx="669.8" cy="583.3" rx="1.5" ry="0.8"/>
<path class="w" d="M735.0,588.8 L735.0,602.8 L736.3,605.8 L742.3,605.8 L743.5999999999999,602.8 L743.5999999999999,588.8 Z"/>
<path class="t" d="M735.0,601.8 Q739.3,604.3 743.5999999999999,601.8"/>
<circle class="w" cx="739.3" cy="585.8" r="5.3"/>
<ellipse class="t" cx="739.3" cy="583.3" rx="1.5" ry="0.8"/>
<path class="w" d="M615.5,617.2 L615.5,631.2 L616.8,634.2 L622.8,634.2 L624.0999999999999,631.2 L624.0999999999999,617.2 Z"/>
<path class="t" d="M615.5,630.2 Q619.8,632.7 624.0999999999999,630.2"/>
<circle class="w" cx="619.8" cy="614.2" r="5.3"/>
<ellipse class="t" cx="619.8" cy="611.7" rx="1.5" ry="0.8"/>
<path class="w" d="M784.9000000000001,617.2 L784.9000000000001,631.2 L786.2,634.2 L792.2,634.2 L793.5,631.2 L793.5,617.2 Z"/>
<path class="t" d="M784.9000000000001,630.2 Q789.2,632.7 793.5,630.2"/>
<circle class="w" cx="789.2" cy="614.2" r="5.3"/>
<ellipse class="t" cx="789.2" cy="611.7" rx="1.5" ry="0.8"/>
<path class="w" d="M616.0,657.5 L616.0,671.5 L617.3,674.5 L623.3,674.5 L624.5999999999999,671.5 L624.5999999999999,657.5 Z"/>
<path class="t" d="M616.0,670.5 Q620.3,673.0 624.5999999999999,670.5"/>
<circle class="w" cx="620.3" cy="654.5" r="5.3"/>
<ellipse class="t" cx="620.3" cy="652.0" rx="1.5" ry="0.8"/>
<path class="w" d="M784.9000000000001,657.5 L784.9000000000001,671.5 L786.2,674.5 L792.2,674.5 L793.5,671.5 L793.5,657.5 Z"/>
<path class="t" d="M784.9000000000001,670.5 Q789.2,673.0 793.5,670.5"/>
<circle class="w" cx="789.2" cy="654.5" r="5.3"/>
<ellipse class="t" cx="789.2" cy="652.0" rx="1.5" ry="0.8"/>
<path class="w" d="M665.2,687.2 L665.2,701.2 L666.5,704.2 L672.5,704.2 L673.8,701.2 L673.8,687.2 Z"/>
<path class="t" d="M665.2,700.2 Q669.5,702.7 673.8,700.2"/>
<circle class="w" cx="669.5" cy="684.2" r="5.3"/>
<ellipse class="t" cx="669.5" cy="681.7" rx="1.5" ry="0.8"/>
<path class="w" d="M735.0,687.2 L735.0,701.2 L736.3,704.2 L742.3,704.2 L743.5999999999999,701.2 L743.5999999999999,687.2 Z"/>
<path class="t" d="M735.0,700.2 Q739.3,702.7 743.5999999999999,700.2"/>
<circle class="w" cx="739.3" cy="684.2" r="5.3"/>
<ellipse class="t" cx="739.3" cy="681.7" rx="1.5" ry="0.8"/>
</g>


<!-- CABLES -->
<g id="cables">
<ellipse cx="554" cy="712" rx="54" ry="30" fill="none" stroke="#111" stroke-width="1.05"/>
<ellipse cx="554" cy="712" rx="50.7" ry="26.7" fill="none" stroke="#111" stroke-width="1.05"/>
<ellipse cx="552" cy="721" rx="54" ry="30" fill="none" stroke="#111" stroke-width="1.05"/>
<ellipse cx="552" cy="721" rx="50.7" ry="26.7" fill="none" stroke="#111" stroke-width="1.05"/>
<ellipse cx="550" cy="730" rx="54" ry="30" fill="none" stroke="#111" stroke-width="1.05"/>
<ellipse cx="550" cy="730" rx="50.7" ry="26.7" fill="none" stroke="#111" stroke-width="1.05"/>
<ellipse cx="548" cy="739" rx="54" ry="30" fill="none" stroke="#111" stroke-width="1.05"/>
<ellipse cx="548" cy="739" rx="50.7" ry="26.7" fill="none" stroke="#111" stroke-width="1.05"/>
<path class="s" d="M463,685 Q480,690 508,687.5 Q530,684 553.6,682.3"/>
<path class="s" d="M462,690 Q482,693.5 508,691 Q532,688 553.6,686.5"/>
<path class="s" d="M459.5,701.5 Q480,707 510,707.5 Q532,707 549.4,704.5"/>
<path class="s" d="M458.5,706.5 Q482,711.5 510,711.5 Q532,711 549.4,709"/>
<path class="t" d="M552,680 L552,690 M548,702 L548,712 M550,690 L550,698"/>
<path class="s" d="M597,753 Q612,754 630,758.6 M598,757.5 Q613,758.5 631,763"/>
<path class="s" d="M596,766 Q613,768 634,774 M597,770.5 Q613,772.5 635,778.5"/>
<path class="w" d="M417.7,670 Q417.7,668.5 419.2,667.7 L441.5,655.5 Q442.6,654.9 443.6,655.6 L446.6,657.8 Q447.3,658.5 447.3,659.5 L447.3,668.5 L431.8,682.1 L419.2,684 Q417.7,683.8 417.7,682.5 Z"/>
<path class="t" d="M421.5,683 L421.5,672.2 L430,667.5 Q432.5,665 436,664.4 L443.5,659.4"/>
<ellipse class="t" cx="426" cy="678.4" rx="1.3" ry="1.8" transform="rotate(25 426 678.4)"/>
<path d="M440.8,665.2 L462.5,679.5 L456.5,693.6 L431.8,682.1 Z" fill="#fff"/><path class="s" d="M440.8,665.2 L462.5,679.5 M456.5,693.6 L431.8,682.1"/>
<ellipse class="w" cx="459.6" cy="686.8" rx="5.6" ry="7.2" transform="rotate(28 459.6 686.8)"/>
<ellipse class="t" cx="460.3" cy="686.6" rx="2.6" ry="4" transform="rotate(28 460.3 686.6)"/>
<path class="w" d="M415.3,688.3 Q415.3,686.8 416.8,686 L429,681.5 L431.8,681.8 L431.8,696 L421.5,703.2 Q420.3,703.8 419,703.2 L416.2,701.3 Q415.3,700.6 415.3,699.5 Z"/>
<path class="t" d="M419.4,689.7 L419.4,698.8"/>
<ellipse class="t" cx="423.6" cy="694.9" rx="1.3" ry="1.8" transform="rotate(25 423.6 694.9)"/>
<path d="M431.8,681.2 L455.5,694.5 L450.5,709.2 L429.8,698.3 Z" fill="#fff"/><path class="s" d="M431.8,681.2 L455.5,694.5 M450.5,709.2 L429.8,698.3"/>
<ellipse class="w" cx="456.2" cy="703.3" rx="5.6" ry="7.2" transform="rotate(28 456.2 703.3)"/>
<ellipse class="t" cx="457" cy="703.3" rx="2.6" ry="4" transform="rotate(28 457 703.3)"/>
<path class="t" d="M773,702 Q769,710 773,718 M777,704 Q774,712 778,718"/>
</g>


<!-- PART 9 bracket -->
<g id="p9">
<path class="w" d="M685.3,895.8 Q688,891 698.3,890.8 Q706,893 711.4,899 Q724,908 734.3,918.6 Q750,950 763.7,987.3 Q766,1001 771.1,1009.6 Q778,1018 785.6,1024.1 Q789.2,1030 789.2,1036.1 L791.6,1072.2 Q791,1084 785.6,1089.1 L674,1151 Q670,1153 667.6,1151.7 L571.3,1095.1 Q565,1093 564.1,1091.5 Q559,1075 558,1039.7 Q562,1020 569.3,1006.9 Q573,985 580.7,961.1 Q585,953 595.4,952 Q606,953 616.6,962.7 Q632,985 636.3,1000 L657.8,1042.3 L675,1032.6 Q683,1028 686,1023 Q688.8,1018 688.8,1010.6 Q688,1000 685.3,987.3 Q684,972 678.7,964.4 Q672,958 672.2,950 Q673,920 685.3,895.8 Z"/>
<path class="s" d="M616.6,962.7 Q632,985 640,1005 Q648,1022 654,1040 Q662,1062 664,1085 L665.5,1115 L667.6,1151.7"/>
<path class="t" d="M619,962 Q634,984 642,1004 Q650,1021 656.5,1040 Q664.5,1062 666.5,1085 L668,1115 L670,1150"/>
<path class="t" d="M573,1096 L667,1150 M786,1091 L672,1153"/>
<path class="t" d="M734.3,918.6 Q752,952 765,989 Q768,1002 773.5,1010 Q780,1018 787.5,1024.5"/>
<ellipse class="s" cx="599" cy="979.5" rx="7.8" ry="10.8" transform="rotate(-25 599 979.5)"/>
<path class="s" d="M613.4,975.8 Q620,983 620,993.8 Q618,1001 610,1005.2 M610.5,976.5 Q617,984 617,993 Q615.5,999.5 609.5,1003"/>
<path class="t" d="M609.3,1003.5 Q608,1005.5 610,1005.2"/>
<path class="s" d="M695,912 Q692,918 694,925 Q696,930 702,931 M698,911 Q700,912 701,915"/>
<path class="s" d="M714.7,915.3 Q723,922 722.8,928.4 Q721,938 713,946.4 M712,917 Q720,923 719.8,929 Q718,937 711,944"/>
<path class="t" d="M711,944 Q710,947 713,946.4"/>
<g class="s">
<path d="M580.5,1101.5 L580.5,1087 Q583.3,1081 586.1,1087 L586.1,1104.5"/>
<path d="M592.6,1108.5 L592.6,1094.3 Q595.4,1088.3 598.2,1094.3 L598.2,1111.5"/>
<path d="M605.8,1116 L605.8,1101.5 Q608.6,1095.5 611.4,1101.5 L611.4,1119"/>
<path d="M617.8,1123 L617.8,1108.7 Q620.6,1102.7 623.4,1108.7 L623.4,1126"/>
<path d="M631.1,1130.5 L631.1,1116 Q633.9,1110 636.7,1116 L636.7,1133.5"/>
<path d="M643.1,1137.5 L643.1,1123.2 Q645.9,1117.2 648.7,1123.2 L648.7,1140.5"/>
</g>
<g class="s">
<path d="M708.5,1012 Q711,1010 711.5,1016 Q710,1032 697,1043.5 Q693,1045 694.2,1041.5 Q705,1030 708.5,1012 Z"/>
<path d="M720.6,1019.3 Q723.1,1017.3 723.6,1023.3 Q722.1,1039.3 709.1,1050.8 Q705.1,1052.3 706.3,1048.8 Q717.1,1037.3 720.6,1019.3 Z"/>
<path d="M732.6,1026.5 Q735.1,1024.5 735.6,1030.5 Q734.1,1046.5 721.1,1058 Q717.1,1059.5 718.3,1056 Q729.1,1044.5 732.6,1026.5 Z"/>
<path d="M745.8,1033.7 Q748.3,1031.7 748.8,1037.7 Q747.3,1053.7 734.3,1065.2 Q730.3,1066.7 731.5,1063.2 Q742.3,1051.7 745.8,1033.7 Z"/>
<path d="M759.1,1040.9 Q761.6,1038.9 762.1,1044.9 Q760.6,1060.9 747.6,1072.4 Q743.6,1073.9 744.8,1070.4 Q755.6,1058.9 759.1,1040.9 Z"/>
<path d="M772.3,1048.1 Q774.8,1046.1 775.3,1052.1 Q773.8,1068.1 760.8,1079.6 Q756.8,1081.1 758,1077.6 Q768.8,1066.1 772.3,1048.1 Z"/>
<path d="M671.5,1061.5 Q700,1060 718,1074 Q726,1082 726.5,1091 Q724,1094 722.5,1091 Q721,1083 714,1077 Q697,1064.5 672,1065 Q669.5,1063 671.5,1061.5 Z"/>
<path d="M665.5,1114.5 L684,1115.8 Q686,1117.5 684,1119 L665.5,1118 Z"/>
</g>
<g class="t"><ellipse cx="677.2" cy="1089.6" rx="2.3" ry="1.3"/><ellipse cx="782" cy="1038.5" rx="1.1" ry="1.3"/><ellipse cx="782" cy="1056.6" rx="1.1" ry="1.3"/><ellipse cx="656.3" cy="1111.2" rx="1.1" ry="1.3"/><ellipse cx="656.3" cy="1129.5" rx="1.1" ry="1.3"/></g>
</g>

<!-- PART 8 screw+washers (left) -->
<g id="p8">
<ellipse style="stroke-width:2.2" class="w" cx="542.1" cy="1031.3" rx="4.3" ry="6" transform="rotate(-20 542.1 1031.3)"/>
<circle cx="542.1" cy="1031.3" r="1.4" fill="#111"/>
<ellipse style="stroke-width:2.2" class="w" cx="529.7" cy="1037.5" rx="4.3" ry="6" transform="rotate(-20 529.7 1037.5)"/>
<circle cx="529.7" cy="1037.5" r="1.4" fill="#111"/>
<path class="w" d="M511,1046.5 L519,1042 Q522,1042.5 521.5,1045 L513.5,1050 Z"/>
<path class="t" d="M514,1045 L515.5,1048.5 M516.5,1043.5 L518,1047 M519,1042.5 L520.3,1045.5"/>
<circle class="w" cx="510.2" cy="1050.3" r="3.6"/>
<circle class="t" cx="510.2" cy="1050.3" r="1.6"/>
<path class="s" d="M500.8,1052.4 L503.4,1034.9 L514.8,1028.7 M522.5,1024.1 L530.2,1019.4 L549.9,1021.5"/>
</g>

<!-- PART right screw+washers -->
<g id="pw">
<ellipse style="stroke-width:2.2" class="w" cx="781.4" cy="891.5" rx="4.3" ry="5.8" transform="rotate(-20 781.4 891.5)"/>
<circle cx="781.4" cy="891.5" r="1.4" fill="#111"/>
<ellipse style="stroke-width:2.2" class="w" cx="793.8" cy="885" rx="4.3" ry="5.8" transform="rotate(-20 793.8 885)"/>
<circle cx="793.8" cy="885" r="1.4" fill="#111"/>
<path class="w" d="M801,879 L809,874.5 Q811.5,875.5 810.5,878.5 L803,883 Q800,882.5 801,879 Z"/>
<path class="t" d="M803.5,878 L805,881.5 M806,876.5 L807.5,880 M808.5,875.2 L809.5,878"/>
<ellipse class="w" cx="811.8" cy="874.3" rx="3.4" ry="4" transform="rotate(-30 811.8 874.3)"/>
<path class="t" d="M810.5,871.5 L812.5,877"/>
</g>

<!-- PART 4 elbow -->
<g id="p4">
<path class="w" d="M978,957.6 L978,967 Q987.6,971 997.2,967 L997.2,957.6 Z"/>
<path class="t" d="M978,960.5 Q987.6,964 997.2,960.5 M978,963.5 Q987.6,967 997.2,963.5"/>
<path class="w" d="M959.9,929.3 Q958.5,919 961,916.9 Q964,911 970,909.5 Q976,908 985.9,913.5 Q993,918 997,925 Q1000,932 1000.6,944 L1000.6,957.6 Q987.6,962 974.6,957.6 L974.6,944 Q973,940 970.1,939.5 Q966,937.5 963.3,935 Q961,932 959.9,929.3 Z"/>
<path class="t" d="M974.6,957.6 Q987.6,953.5 1000.6,957.6"/>
</g>

<!-- PART 5 nut -->
<g id="p5">
<path class="w" d="M969.8,1002.4 L969.8,1035.5 Q985.5,1042 1001.1,1035.5 L1001.1,1002.4 Z"/>
<ellipse class="w" cx="985.5" cy="1002.4" rx="15.4" ry="5.7"/>
<ellipse class="s" cx="985.5" cy="1003" rx="11" ry="4"/>
<path d="M976,1004.5 Q985.5,1008 995,1004.5" stroke="#555" stroke-width="2" fill="none"/>
<path class="t" d="M969.8,1020.5 Q985.5,1026 1001.1,1020.5 M969.8,1033 Q985.5,1038.5 1001.1,1033 M978,1023.5 L978,1035.5 M993,1023.5 L993,1035.5"/>
</g>

<!-- PART 6 fitting -->
<g id="p6">
<path class="w" d="M975.8,1090 L975.8,1121 Q985.4,1126 995,1121 L995,1090 Z"/>
<path class="w" d="M972.8,1082 L972.8,1089.5 Q985.8,1095.5 998.8,1089.5 L998.8,1082 Q985.8,1076 972.8,1082 Z"/>
<path class="t" d="M972.8,1082 Q985.8,1088 998.8,1082 M979,1085 L979,1092 M992.5,1085 L992.5,1092"/>
<path class="w" d="M975.7,1068 L975.7,1084 Q985.9,1088 996.1,1084 L996.1,1068 Z"/>
<path class="t" d="M975.7,1071 Q985.9,1075 996.1,1071 M975.7,1074 Q985.9,1078 996.1,1074 M975.7,1077 Q985.9,1081 996.1,1077 M975.7,1080 Q985.9,1084 996.1,1080"/>
<ellipse class="w" cx="985.9" cy="1068" rx="10.2" ry="4.5"/>
<ellipse class="t" cx="985.9" cy="1068.3" rx="7" ry="3"/>
</g>

<!-- PART 7 clamp -->
<g id="p7">
<path class="w" d="M967.9,1168.6 L968.4,1175.5 Q972,1183 986,1184 Q996,1183.5 1003.9,1176 L1003.9,1168.6 Z"/>
<ellipse class="w" cx="985.9" cy="1168.6" rx="18" ry="7.9"/>
<ellipse class="s" cx="985.9" cy="1169.8" rx="16" ry="6.3"/>
<path class="t" d="M972.5,1177 L972.5,1181 M975,1178 L975,1182 M977.5,1179 L977.5,1183"/>
<path class="w" d="M987.5,1179 L997,1173 L1005.5,1176.5 L1005.5,1183 L996,1188.5 L987.5,1185 Z"/>
<path class="t" d="M987.5,1179 L996,1183 L1005.5,1176.5 M996,1183 L996,1188.5"/>
<ellipse class="t" cx="990.5" cy="1184" rx="1.5" ry="2"/>
<path class="t" d="M1000,1164 L1002,1168"/>
</g>

<!-- PART 17 pin -->
<g id="p17">
<path d="M120,477 L172,444.5" fill="none" stroke="#111" stroke-width="4.4" stroke-linecap="round"/>
<path d="M120,477 L172,444.5" fill="none" stroke="#fff" stroke-width="2.4" stroke-linecap="round"/>
<ellipse cx="120" cy="477" rx="1.4" ry="2.1" transform="rotate(32 120 477)" fill="none" stroke="#111" stroke-width="0.8"/>
<path d="M141,462 L147.5,458" stroke="#fff" stroke-width="2.6"/>
</g>

<!-- AXIS LINES -->
<g id="axes">
<path d="M705.3,174.7 L705.3,249" fill="none" stroke="#fff" stroke-width="7"/>
<path class="dd" d="M705.3,174.7 L705.3,249"/>
<path d="M705.3,169.6 L705.3,174.7" stroke="#333" stroke-width="1.1"/>
<path d="M705.3,367 L705.3,446" fill="none" stroke="#fff" stroke-width="7"/>
<path class="dd" d="M705.3,367 L705.3,446" stroke-dashoffset="-1.6"/>
<path d="M705.3,478 L705.3,677" fill="none" stroke="#fff" stroke-width="7"/>
<path class="dd" d="M705.3,478 L705.3,677" stroke-dashoffset="3"/>
<path d="M1005.8,112 L1005.8,250" fill="none" stroke="#fff" stroke-width="7"/>
<path class="dd" d="M1005.8,112 L1005.8,250"/>
<path d="M955.5,401.2 L955.5,855" fill="none" stroke="#fff" stroke-width="7"/>
<path class="dd" d="M955.5,401.2 L955.5,855" stroke-dashoffset="8.3"/>
<path d="M711.8,525 L844.2,600.5 L844.2,792 L955.5,855" fill="none" stroke="#fff" stroke-width="7"/>
<path class="da" d="M711.8,525 L844.2,600.5 L844.2,792 L955.5,855"/>
<path d="M772,808.6 L956.5,914.6" fill="none" stroke="#fff" stroke-width="7"/>
<path class="da" d="M772,808.6 L956.5,914.6"/>
<path d="M986.4,972 L986.4,1007" fill="none" stroke="#fff" stroke-width="7"/>
<path class="dd" d="M986.4,972 L986.4,1007"/>
<path d="M986.4,1040 L986.4,1071" fill="none" stroke="#fff" stroke-width="7"/>
<path class="dd" d="M986.4,1040 L986.4,1071"/>
<path d="M986.4,1126 L986.4,1175" fill="none" stroke="#fff" stroke-width="7"/>
<path class="dd" d="M986.4,1126 L986.4,1175"/>
<path d="M640.9,775 L640.9,974.2 L550,1027.5" fill="none" stroke="#fff" stroke-width="7"/>
<path class="dd" d="M640.9,775 L640.9,974.2 L550,1027.5"/>
<path d="M761.8,818 L761.8,841 L702.4,881.5 L702.4,939" fill="none" stroke="#fff" stroke-width="7"/>
<path class="da" d="M761.8,818 L761.8,841 L702.4,881.5 L702.4,939"/>
<path class="da" d="M702.4,937 L781,891.5"/>
</g>

<!-- LEADERS -->
<path d="M1136.1,24.3 L1010,96.7 M1131.1,243.2 L1059.4,284.7 M1130.9,685.4 L1044.1,735.9 M1130.8,866.4 L998.4,942.9 M1130.9,941.5 L998.4,1018.6 M1133.3,1019.4 L996.1,1099.7 M1136.3,1093.7 L1002.9,1170.9 M488.8,1008.2 L518.6,1024.8 M488.8,908.3 L582.3,961.1 M493.8,356.2 L658.7,451.2 M499.1,206.2 L673.6,307.2 M498.6,24.3 L677.5,128.2 M78.6,1090.2 L163.3,1139.1 M78.9,888.9 L152,930.5 M85.3,780.4 L137.3,810.1 M74.3,545.3 L131.5,577.3 M74.5,416.9 L144.9,456.6 M61.9,201.3 L114.6,231.6 M55.9,98.0 L108.3,128.1 M209.4,64.3 L302,117.7" fill="none" stroke="#fff" stroke-width="7"/>
<g id="leaders" class="l">
<path d="M1144.8,19.3 L1010,96.7"/>
<path d="M1139.8,238.2 L1059.4,284.7"/>
<path d="M1139.5,680.4 L1044.1,735.9"/>
<path d="M1139.5,861.4 L998.4,942.9"/>
<path d="M1139.5,936.5 L998.4,1018.6"/>
<path d="M1141.9,1014.4 L996.1,1099.7"/>
<path d="M1145,1088.7 L1002.9,1170.9"/>
<path d="M480.1,1003.3 L518.6,1024.8"/>
<path d="M480.1,903.4 L582.3,961.1"/>
<path d="M485.1,351.2 L658.7,451.2"/>
<path d="M490.4,201.2 L673.6,307.2"/>
<path d="M490,19.3 L677.5,128.2"/>
<path d="M69.9,1085.2 L163.3,1139.1"/>
<path d="M70.25,883.9 L152,930.5"/>
<path d="M76.6,775.4 L137.3,810.1"/>
<path d="M65.6,540.4 L131.5,577.3"/>
<path d="M65.8,412 L144.9,456.6"/>
<path d="M53.2,196.3 L114.6,231.6"/>
<path d="M47.2,93 L108.3,128.1"/>
<path d="M200.7,59.3 L302,117.7"/>
</g>
</svg>
</body></html>
